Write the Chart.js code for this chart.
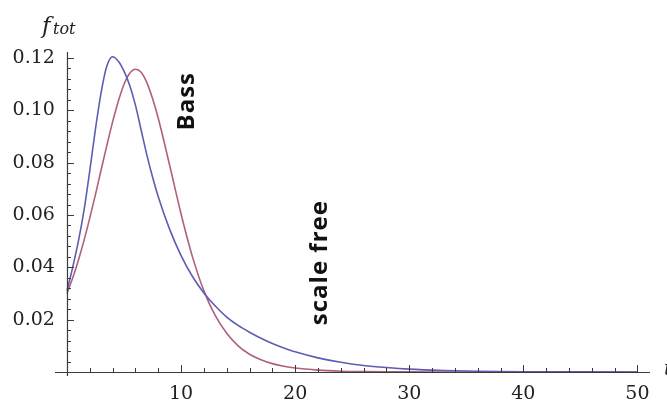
<!DOCTYPE html>
<html>
<head>
<meta charset="utf-8">
<script src="https://cdn.jsdelivr.net/npm/chart.js@4.4.1/dist/chart.umd.min.js"></script>
<style>
body{margin:0;background:#fff;}
#wrap{width:667px;height:401px;}
</style>
</head>
<body>
<div id="wrap"><canvas id="c" width="667" height="401"></canvas></div>
<script>
//f_tot curves, Bass vs scale free

var tGrid=[0,0.5,1,1.5,2,2.5,3,3.5,4,4.5,5,5.5,6,6.5,7,7.5,8,9,10,11,12,13,14,15,16,17,18,19,20,22,24,26,28,30,33,36,40,45,50];
var scaleFree=[0.031,0.040,0.050,0.062,0.077,0.093,0.107,0.117,0.1205,0.1188,0.1150,0.1095,0.1020,0.0925,0.0830,0.0745,0.0670,0.0545,0.0445,0.0365,0.0302,0.0252,0.0210,0.0178,0.0152,0.0129,0.0109,0.0092,0.0077,0.0054,0.0037,0.0025,0.0017,0.0011,0.0006,0.0003,0.00012,0.00004,0.00002];
var bass=[0.030,0.0359,0.0427,0.0504,0.0589,0.0679,0.0774,0.0867,0.0956,0.1035,0.1100,0.1142,0.1157,0.1146,0.1106,0.1045,0.0970,0.0790,0.0604,0.0440,0.0310,0.0215,0.0148,0.0100,0.0068,0.0047,0.0032,0.0022,0.0015,0.0007,0.0003,0.00014,0.00006,0.00003,0.00001,0,0,0,0];
var xTicks=[10,20,30,40,50];
var yTicks=[0.02,0.04,0.06,0.08,0.10,0.12];
var labels={bass:'Bass', free:'scale free', yName:'f', ySub:'tot', xName:'t'};

function pts(ys){
	var out=[];
	for(var i=0;i<tGrid.length;i++){
		out.push({x:tGrid[i], y:ys[i]});
	}
	return out;
}

var axisColor='#3a3a3a';
var serif='"DejaVu Serif", serif';

// axes through the origin, inward ticks, and the loose texts
var decor={
	id:'decor',
	afterDatasetsDraw:function(chart){
		var ctx=chart.ctx;
		var xs=chart.scales.x, ys=chart.scales.y;
		var x0=xs.getPixelForValue(0), y0=ys.getPixelForValue(0);
		var area=chart.chartArea;
		ctx.save();
		ctx.strokeStyle=axisColor;
		ctx.lineWidth=1.2;
		ctx.beginPath();
		ctx.moveTo(area.left, y0+0.5); ctx.lineTo(area.right, y0+0.5);
		ctx.moveTo(x0+0.5, area.top); ctx.lineTo(x0+0.5, y0+4);
		ctx.stroke();
		ctx.lineWidth=1;
		ctx.beginPath();
		var i, p, len;
		for(i=1;i<=30;i++){
			p=Math.round(ys.getPixelForValue(i*0.004))+0.5;
			len=(i%5==0)?7:4;
			ctx.moveTo(x0, p); ctx.lineTo(x0+len, p);
		}
		for(i=1;i<=25;i++){
			p=Math.round(xs.getPixelForValue(i*2))+0.5;
			len=(i%5==0)?7:4;
			ctx.moveTo(p, y0); ctx.lineTo(p, y0-len);
		}
		ctx.stroke();

		// axis names
		ctx.fillStyle='#222';
		ctx.textBaseline='alphabetic';
		ctx.textAlign='left';
		ctx.font='italic 23px '+serif;
		ctx.fillText(labels.yName, x0-25, area.top-19);
		ctx.font='italic 16px '+serif;
		ctx.fillText(labels.ySub, x0-14, area.top-18);
		ctx.font='italic 20px '+serif;
		ctx.fillText(labels.xName, area.right+14, y0+3);

		// rotated notes
		ctx.fillStyle='#111';
		ctx.font='bold 24px "Open Sans", sans-serif';
		ctx.letterSpacing='1px';
		ctx.textAlign='center';
		ctx.textBaseline='middle';
		ctx.save();
		ctx.translate(xs.getPixelForValue(10.5), ys.getPixelForValue(0.1035));
		ctx.rotate(-Math.PI/2);
		ctx.fillText(labels.bass,0,0);
		ctx.restore();
		ctx.save();
		ctx.translate(xs.getPixelForValue(22.2), ys.getPixelForValue(0.0418));
		ctx.rotate(-Math.PI/2);
		ctx.fillText(labels.free,0,0);
		ctx.restore();
		ctx.restore();
	}
};

var chart=new Chart(document.getElementById('c'),{
	type:'line',
	data:{
		datasets:[{
			label:'scale free',
			data:pts(scaleFree),
			borderColor:'#5d5db4',
			borderWidth:1.6,
			pointRadius:0,
			cubicInterpolationMode:'monotone',
			fill:false
		},{
			label:'Bass',
			data:pts(bass),
			borderColor:'#b0607f',
			borderWidth:1.6,
			pointRadius:0,
			cubicInterpolationMode:'monotone',
			fill:false
		}]
	},
	options:{
		responsive:false,
		animation:false,
		devicePixelRatio:1,
		layout:{padding:{left:55, right:17, top:52, bottom:29}},
		plugins:{legend:{display:false}, tooltip:{enabled:false}},
		scales:{
			x:{
				type:'linear',
				position:{y:0},
				min:-1.05,
				max:51.1,
				grid:{display:false, drawTicks:false},
				border:{display:false},
				afterBuildTicks:function(s){ s.ticks=xTicks.map(function(v){return {value:v};}); },
				ticks:{
					autoSkip:false,
					maxRotation:0,
					padding:11,
					color:'#222',
					font:{family:serif, size:19},
					callback:function(v){ return String(v); }
				}
			},
			y:{
				type:'linear',
				position:{x:0},
				min:0,
				max:0.1223,
				grid:{display:false, drawTicks:false},
				border:{display:false},
				afterBuildTicks:function(s){ s.ticks=yTicks.map(function(v){return {value:v};}); },
				ticks:{
					autoSkip:false,
					padding:8,
					color:'#222',
					font:{family:serif, size:19},
					callback:function(v){ return v.toFixed(2)+'  '; }
				}
			}
		}
	},
	plugins:[decor]
});
</script>
</body>
</html>
